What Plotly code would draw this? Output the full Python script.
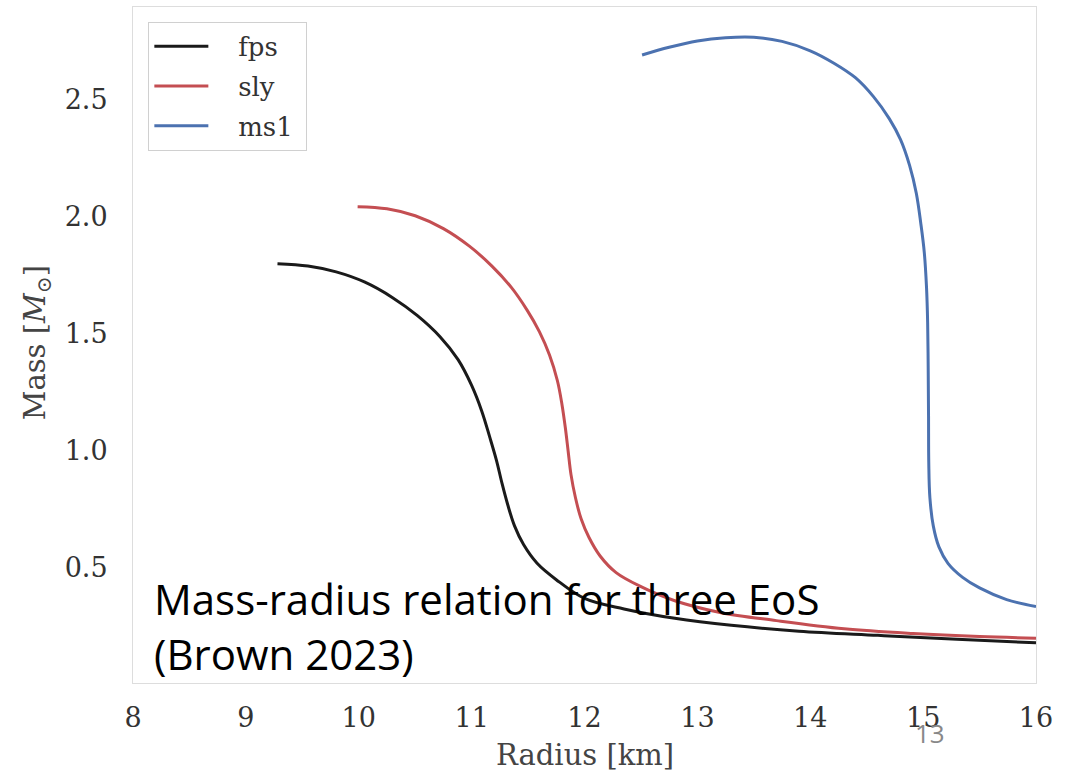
import plotly.graph_objects as go

# ---- data ----
fps_radius = [9.28, 9.55, 9.80, 10.05, 10.30, 10.52, 10.72, 10.88, 11.00, 11.09, 11.16, 11.22,
              11.27, 11.32, 11.38, 11.46, 11.58, 11.75, 12.00, 12.35, 12.80, 13.30, 13.90,
              14.60, 15.30, 16.00]
fps_mass = [1.800, 1.790, 1.765, 1.722, 1.655, 1.578, 1.488, 1.39, 1.28, 1.17, 1.06, 0.96,
            0.86, 0.77, 0.68, 0.60, 0.52, 0.45, 0.37, 0.325, 0.285, 0.255, 0.23,
            0.212, 0.195, 0.18]

sly_radius = [9.99, 10.25, 10.50, 10.75, 10.98, 11.18, 11.35, 11.49, 11.60, 11.69, 11.76, 11.80,
              11.83, 11.855, 11.88, 11.92, 11.97, 12.04, 12.14, 12.28, 12.50, 12.80, 13.20,
              13.70, 14.30, 14.91, 15.50, 16.00]
sly_mass = [2.044, 2.035, 2.005, 1.95, 1.875, 1.79, 1.70, 1.603, 1.51, 1.41, 1.30, 1.20,
            1.10, 1.00, 0.90, 0.80, 0.71, 0.63, 0.55, 0.48, 0.42, 0.36, 0.31,
            0.275, 0.24, 0.22, 0.207, 0.20]

ms1_radius = [12.51, 12.75, 13.00, 13.25, 13.50, 13.75, 14.00, 14.21, 14.40, 14.56, 14.70, 14.80,
              14.88, 14.94, 14.98, 15.01, 15.03, 15.04, 15.045, 15.048, 15.05, 15.06, 15.09,
              15.14, 15.22, 15.35, 15.50, 15.74, 16.00]
ms1_mass = [2.692, 2.725, 2.752, 2.766, 2.768, 2.750, 2.710, 2.657, 2.595, 2.514, 2.42, 2.33,
            2.22, 2.10, 1.97, 1.85, 1.70, 1.55, 1.35, 1.15, 0.95, 0.80, 0.68,
            0.59, 0.52, 0.46, 0.415, 0.365, 0.335]

series_names = ["fps", "sly", "ms1"]
series_colors = ["#1a1a1a", "#c44e52", "#4c72b0"]

x_ticks = [8, 9, 10, 11, 12, 13, 14, 15, 16]
y_ticks = [0.5, 1.0, 1.5, 2.0, 2.5]

SERIF = "DejaVu Serif"
NBSP = "\u00a0"

fig = go.Figure()
for name, color, xs, ys in zip(series_names, series_colors,
                               [fps_radius, sly_radius, ms1_radius],
                               [fps_mass, sly_mass, ms1_mass]):
    fig.add_trace(go.Scatter(x=xs, y=ys, mode="lines", name=NBSP * 3 + name + NBSP,
                             legendgroup=name,
                             line=dict(color=color, width=3, shape="spline", smoothing=1.0)))

fig.update_layout(
    width=1084, height=771,
    margin=dict(l=133, r=48, t=7, b=88),
    paper_bgcolor="white", plot_bgcolor="white",
    font=dict(family=SERIF, size=27, color="#333333"),
    showlegend=True,
    legend=dict(x=0.017, y=0.978, xanchor="left", yanchor="top",
                bgcolor="white", bordercolor="#d0d0d0", borderwidth=1,
                font=dict(family=SERIF, size=26, color="#333333"),
                itemwidth=54, tracegroupgap=3),
    xaxis=dict(range=[8, 16], tickvals=x_ticks, ticktext=[str(v) for v in x_ticks],
               showgrid=False, zeroline=False, showline=True, linecolor="#dddddd",
               linewidth=1, mirror=True, ticks="", ticklabelstandoff=11,
               tickfont=dict(family=SERIF, size=27, color="#333333")),
    yaxis=dict(range=[0.0085, 2.897], tickvals=y_ticks, ticktext=[f"{v:.1f}" for v in y_ticks],
               showgrid=False, zeroline=False, showline=True, linecolor="#dddddd",
               linewidth=1, mirror=True, ticks="", ticklabelstandoff=19,
               tickfont=dict(family=SERIF, size=27, color="#333333")),
)

annotations = [
    dict(text="Radius [km]", x=0.5, y=-0.106, xref="paper", yref="paper",
         xanchor="center", yanchor="middle", showarrow=False,
         font=dict(family=SERIF, size=29, color="#444444")),
    dict(text="Mass [<i>M</i><sub>⊙</sub>]", x=-0.106, y=0.503, xref="paper", yref="paper",
         xanchor="center", yanchor="middle", showarrow=False, textangle=-90,
         font=dict(family=SERIF, size=29, color="#444444")),
    dict(text="Mass-radius relation for three EoS", x=0.021, y=0.125, xref="paper", yref="paper",
         xanchor="left", yanchor="middle", showarrow=False,
         font=dict(family="Open Sans", size=42, color="#000000")),
    dict(text="(Brown 2023)", x=0.021, y=0.0436, xref="paper", yref="paper",
         xanchor="left", yanchor="middle", showarrow=False,
         font=dict(family="Open Sans", size=42, color="#000000")),
    dict(text="13", x=0.883, y=-0.074, xref="paper", yref="paper",
         xanchor="center", yanchor="middle", showarrow=False,
         font=dict(family="Open Sans", size=26, color="#888888")),
]
fig.update_layout(annotations=annotations)

fig.write_html("out.html")
